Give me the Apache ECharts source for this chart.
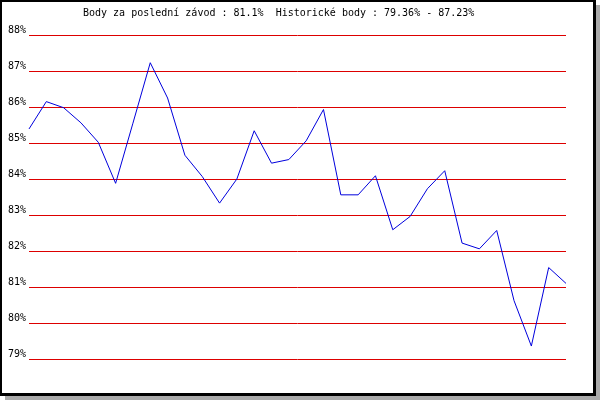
<!DOCTYPE html>
<html>
<head>
<meta charset="utf-8">
<script src="https://cdn.jsdelivr.net/npm/echarts@6/dist/echarts.min.js"></script>
<style>
html,body{margin:0;padding:0;background:#fff;}
#c{width:600px;height:400px;}
</style>
</head>
<body>
<div id="c"></div>
<script>
const titleText = 'Body za poslední závod : 81.1%  Historické body : 79.36% - 87.23%';
const races = Array.from({length: 32}, (_, i) => String(i + 1));
const points = [85.39, 86.15, 85.98, 85.56, 85.02, 83.88, 85.55, 87.23, 86.25, 84.66,
                84.07, 83.33, 84.0, 85.34, 84.44, 84.54, 85.06, 85.93, 83.56, 83.56,
                84.09, 82.59, 82.96, 83.73, 84.23, 82.22, 82.06, 82.57, 80.62, 79.36,
                81.54, 81.1];
const yMin = 79, yMax = 88, yStep = 1;

const chart = echarts.init(document.getElementById('c'), null, {renderer: 'canvas'});
chart.setOption({
  animation: false,
  backgroundColor: 'transparent',
  graphic: [
    {type: 'rect', z: -10, shape: {x: 5, y: 5, width: 595, height: 395}, style: {fill: '#aaaaaa'}},
    {type: 'rect', z: -9, shape: {x: 0, y: 0, width: 596, height: 396}, style: {fill: '#000000'}},
    {type: 'rect', z: -8, shape: {x: 2, y: 2, width: 591, height: 391}, style: {fill: '#ffffff'}}
  ],
  title: {
    text: titleText,
    left: 83,
    top: 8,
    padding: 0,
    textStyle: {fontFamily: 'DejaVu Sans Mono', fontSize: 10, fontWeight: 'normal', color: '#000'}
  },
  grid: {left: 29, right: 34, top: 35, bottom: 41},
  xAxis: {
    type: 'category',
    data: races,
    boundaryGap: false,
    axisLine: {show: false},
    axisTick: {show: false},
    axisLabel: {show: false},
    splitLine: {show: false}
  },
  yAxis: {
    type: 'value',
    min: yMin,
    max: yMax,
    interval: yStep,
    axisLine: {show: false},
    axisTick: {show: false},
    axisLabel: {
      formatter: '{value}%',
      fontFamily: 'DejaVu Sans Mono',
      fontSize: 10,
      color: '#000',
      margin: 3,
      verticalAlign: 'bottom'
    },
    splitLine: {show: true, lineStyle: {color: '#dd0000', width: 1, type: 'solid'}}
  },
  series: [{
    type: 'line',
    data: points,
    symbol: 'none',
    smooth: false,
    lineStyle: {color: '#0000dd', width: 1}
  }]
});
</script>
</body>
</html>
